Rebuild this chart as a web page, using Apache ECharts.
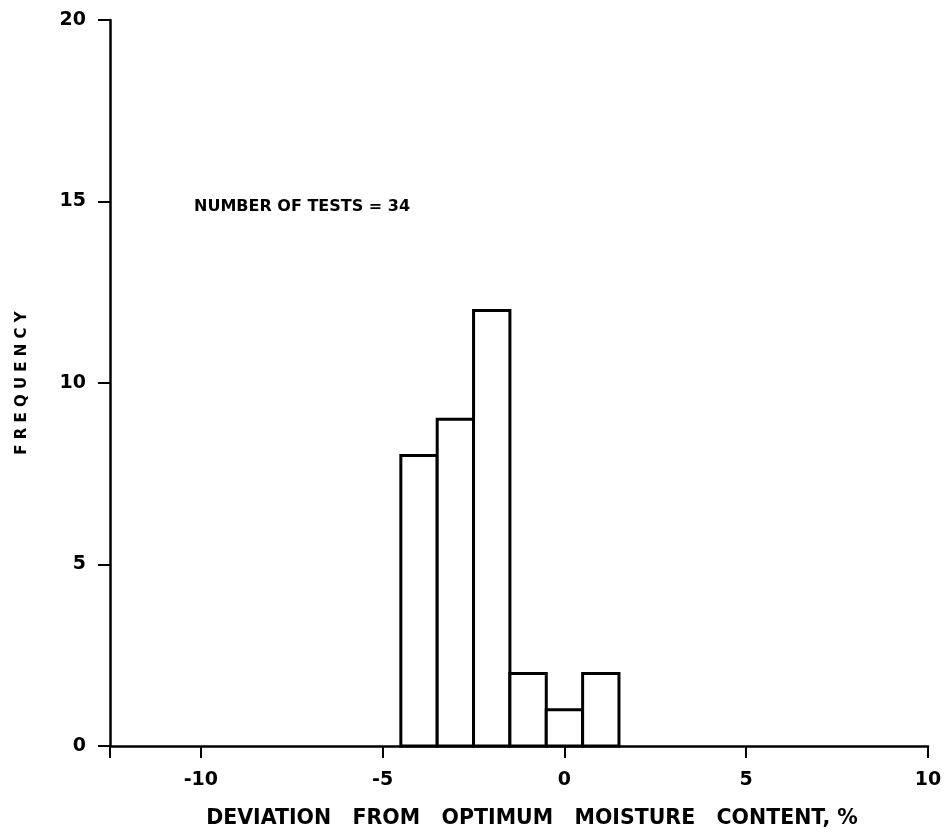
<!DOCTYPE html>
<html>
<head>
<meta charset="utf-8">
<title>Deviation from optimum moisture content</title>
<script src="https://cdn.jsdelivr.net/npm/echarts@6/dist/echarts.min.js"></script>
<style>
  html, body { margin: 0; padding: 0; background: #fff; }
  #chart { width: 952px; height: 834px; }
</style>
</head>
<body>
<div id="chart"></div>
<script>
// histogram data, bins 1% wide centred on whole numbers
var binCenters = [-4, -3, -2, -1, 0, 1];
var frequencies = [8, 9, 12, 2, 1, 2];
var binWidth = 1;
var xTickValues = [-12.5, -10, -5, 0, 5, 10];
var xLabelValues = [-10, -5, 0, 5, 10];
var testCount = 34;

var font = 'DejaVu Sans';

var histData = binCenters.map(function (c, i) {
    return [c - binWidth / 2, c + binWidth / 2, frequencies[i]];
});

var chart = echarts.init(document.getElementById('chart'));

var option = {
    backgroundColor: '#fff',
    animation: false,
    grid: {left: 110, right: 24, top: 20, bottom: 88, containLabel: false, outerBoundsMode: 'none'},
    xAxis: {
        type: 'value',
        min: -12.5,
        max: 10,
        name: 'DEVIATION   FROM   OPTIMUM   MOISTURE   CONTENT, %',
        nameLocation: 'middle',
        nameGap: 62,
        nameTextStyle: {color: '#000', fontFamily: font, fontWeight: 'bold', fontSize: 20.5, padding: [0, 0, 0, 26]},
        axisLine: {onZero: false, lineStyle: {color: '#000', width: 2.5}},
        axisTick: {show: true, length: 12, lineStyle: {color: '#000', width: 2}, customValues: xTickValues},
        axisLabel: {color: '#000', fontFamily: font, fontWeight: 'bold', fontSize: 19, margin: 25, customValues: xLabelValues},
        splitLine: {show: false}
    },
    yAxis: {
        type: 'value',
        min: 0,
        max: 20,
        interval: 5,
        name: 'F R E Q U E N C Y',
        nameLocation: 'middle',
        nameGap: 80,
        nameTextStyle: {color: '#000', fontFamily: font, fontWeight: 'bold', fontSize: 15},
        axisLine: {show: true, onZero: false, lineStyle: {color: '#000', width: 2.5}},
        axisTick: {show: true, length: 12, lineStyle: {color: '#000', width: 2}},
        axisLabel: {color: '#000', fontFamily: font, fontWeight: 'bold', fontSize: 19, margin: 24},
        splitLine: {show: false}
    },
    graphic: [{
        type: 'text',
        left: 194,
        top: 199,
        style: {
            text: 'NUMBER OF TESTS = ' + testCount,
            fill: '#000',
            font: 'bold 16px "DejaVu Sans"'
        }
    }],
    series: [{
        type: 'custom',
        data: histData,
        encode: {x: [0, 1], y: 2},
        renderItem: function (params, api) {
            var p0 = api.coord([api.value(0), api.value(2)]);
            var p1 = api.coord([api.value(1), 0]);
            return {
                type: 'rect',
                shape: {x: p0[0], y: p0[1], width: p1[0] - p0[0], height: p1[1] - p0[1]},
                style: {fill: '#fff', stroke: '#000', lineWidth: 3}
            };
        }
    }]
};

chart.setOption(option);
</script>
</body>
</html>
